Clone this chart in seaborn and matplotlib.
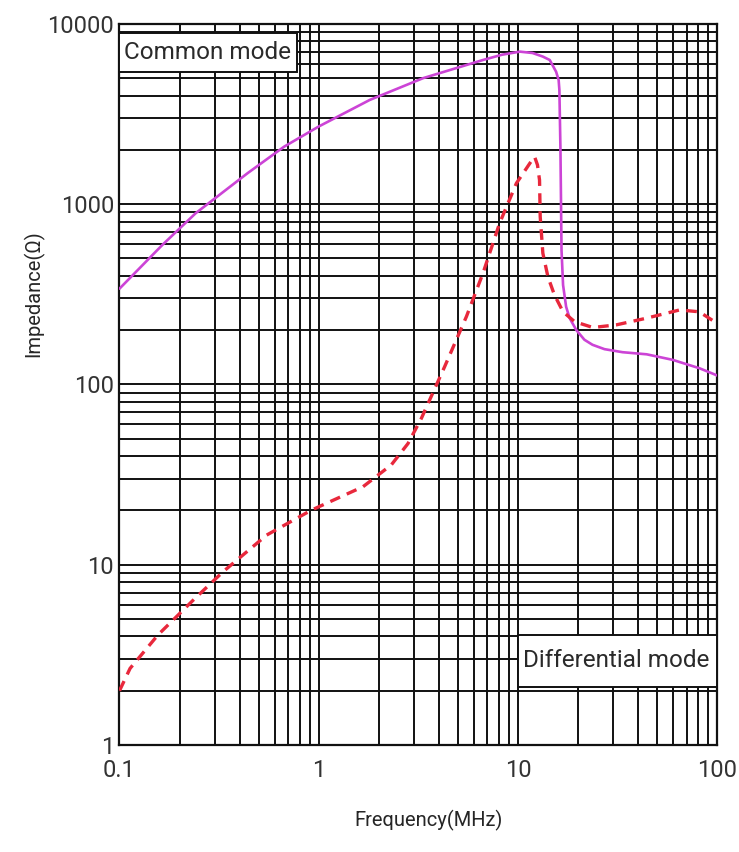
"""
Impedance vs frequency of a common-mode choke, log-log with full grid.
"""
import numpy as np
import pandas as pd
import matplotlib
matplotlib.use("Agg")
import matplotlib.pyplot as plt
import matplotlib.ticker as mticker
import matplotlib.patches as mpatches
import seaborn as sns

COLOR_CM = "#CC44D6"
COLOR_DM = "#E8283C"

# common mode curve (MHz, ohm)
cm_freq = [0.1, 0.164, 0.241, 0.439, 0.67, 1.0, 1.8, 3.33, 6.66, 8.3, 10.2, 11.8,
           13.3, 14.4, 15.5, 15.96, 16.1, 16.3, 16.5, 16.8, 17.4, 18.1, 19.6, 21.5,
           23.6, 27.1, 33.4, 44.1, 59.5, 81.2, 100]
cm_imp = [340, 594, 891, 1486, 2086, 2700, 3787, 5000, 6310, 6750, 7020, 6900,
          6590, 6310, 5430, 4890, 4300, 1995, 557, 356, 270, 234, 200, 177,
          166, 157, 151, 147, 137, 123, 112]

# differential mode curve (MHz, ohm)
dm_freq = [0.1, 0.113, 0.156, 0.239, 0.331, 0.547, 0.919, 1.667, 2.31, 2.8, 3.27,
           4.27, 5.5, 6.66, 8.07, 9.8, 11.9, 12.1, 12.5, 12.8, 12.9, 13.3, 14.1,
           15.2, 16.8, 19.2, 23.7, 31.0, 43.9, 64.5, 81.0, 96.6, 100]
dm_imp = [2.0, 2.66, 4.08, 6.5, 9.15, 14.6, 20.1, 27.1, 35.8, 47, 64.9,
          125, 238, 414, 784, 1307, 1798, 1829, 1651, 1362, 853, 535, 396,
          314, 253, 223, 207, 214, 233, 259, 253, 223, 215]

x_ticks = [0.1, 1, 10, 100]
x_ticklabels = ["0.1", "1", "10", "100"]
y_ticks = [1, 10, 100, 1000, 10000]
y_ticklabels = ["1", "10", "100", "1000", "10000"]

sns.set_style("white")
plt.rcParams["font.family"] = ["Roboto", "DejaVu Sans"]
plt.rcParams["text.color"] = "#2a2a2a"

fig = plt.figure(figsize=(7.39, 8.52), dpi=100)
ax = fig.add_axes([0.1617, 0.1256, 0.8092, 0.8463])

df_cm = pd.DataFrame({"freq": cm_freq, "imp": cm_imp})
df_dm = pd.DataFrame({"freq": dm_freq, "imp": dm_imp})

sns.lineplot(data=df_cm, x="freq", y="imp", ax=ax, color=COLOR_CM,
             linewidth=1.9, estimator=None, sort=False, zorder=4)
sns.lineplot(data=df_dm, x="freq", y="imp", ax=ax, color=COLOR_DM,
             linewidth=2.4, estimator=None, sort=False, zorder=4)
ax.lines[1].set_dashes((3.2, 2.2))

ax.set_xscale("log"); ax.set_yscale("log")
ax.set_xlim(0.1, 100); ax.set_ylim(1, 10000)
ax.set_xticks(x_ticks); ax.set_xticklabels(x_ticklabels)
ax.set_yticks(y_ticks); ax.set_yticklabels(y_ticklabels)
for axis in (ax.xaxis, ax.yaxis):
    axis.set_minor_locator(mticker.LogLocator(base=10, subs=np.arange(2, 10)))
    axis.set_minor_formatter(mticker.NullFormatter())
ax.tick_params(which="both", length=0, labelsize=17, labelcolor="#333333")
ax.tick_params(axis="x", pad=10)
ax.tick_params(axis="y", pad=4)

ax.set_axisbelow(True)
ax.grid(which="both", color="#111111", linewidth=1.4)
for sp in ax.spines.values():
    sp.set_color("#111111"); sp.set_linewidth(1.6)

# label boxes
ax.add_patch(mpatches.Rectangle((0, 0.933), 0.297, 0.0545, transform=ax.transAxes,
                                facecolor="white", edgecolor="#111111", lw=1.4, zorder=3))
ax.text(0.008, 0.961, "Common mode", transform=ax.transAxes, fontsize=17.5,
        ha="left", va="center", zorder=5)
ax.add_patch(mpatches.Rectangle((0.666, 0.080), 0.334, 0.0726, transform=ax.transAxes,
                                facecolor="white", edgecolor="#111111", lw=1.4, zorder=3))
ax.text(0.675, 0.1165, "Differential mode", transform=ax.transAxes, fontsize=17.5,
        ha="left", va="center", zorder=5)

ax.set_xlabel("Frequency(MHz)", fontsize=14.5)
ax.set_ylabel("Impedance(Ω)", fontsize=14.5)
ax.xaxis.set_label_coords(0.516, -0.09)
ax.yaxis.set_label_coords(-0.125, 0.626)

fig.savefig("out.png", dpi=100)
plt.close()
